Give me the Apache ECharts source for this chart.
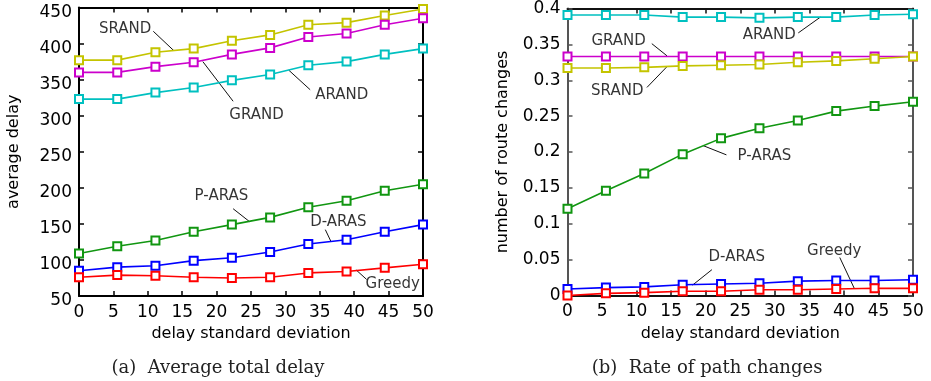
<!DOCTYPE html>
<html>
<head>
<meta charset="utf-8">
<script src="https://cdn.jsdelivr.net/npm/echarts@6/dist/echarts.min.js"></script>
<style>
html, body { margin: 0; padding: 0; background: #fff; }
#main { width: 931px; height: 381px; }
</style>
</head>
<body>
<div id="main"></div>
<script>
// delay standard deviation (10 runs, 0..50)
var xs = [0, 5.56, 11.11, 16.67, 22.22, 27.78, 33.33, 38.89, 44.44, 50];

// (a) average total delay
var delaySRAND  = [377, 377, 388, 393, 404, 412, 426, 429, 439, 448];
var delayGRAND  = [360, 360, 368, 374, 385, 394, 409, 414, 426, 435];
var delayARAND  = [323, 323, 332, 339, 349, 357, 370, 375, 385, 393];
var delayPARAS  = [109, 119, 127, 139, 149, 159, 173, 182, 196, 205];
var delayDARAS  = [85, 90, 92, 99, 103, 111, 122, 128, 139, 149];
var delayGreedy = [76, 79, 78, 76, 75, 76, 82, 84, 89, 94];

// (b) rate of path changes
var rateARAND  = [0.391, 0.391, 0.391, 0.388, 0.388, 0.387, 0.388, 0.388, 0.391, 0.392];
var rateGRAND  = [0.333, 0.333, 0.333, 0.333, 0.333, 0.333, 0.333, 0.333, 0.333, 0.333];
var rateSRAND  = [0.317, 0.317, 0.318, 0.320, 0.321, 0.322, 0.325, 0.327, 0.330, 0.333];
var ratePARAS  = [0.121, 0.146, 0.170, 0.197, 0.219, 0.233, 0.244, 0.257, 0.264, 0.270];
var rateDARAS  = [0.009, 0.011, 0.012, 0.015, 0.016, 0.017, 0.020, 0.021, 0.021, 0.022];
var rateGreedy = [0.000, 0.003, 0.004, 0.006, 0.006, 0.008, 0.008, 0.009, 0.010, 0.010];

// labels: [text, textX, textY, lineX1, lineY1, lineX2, lineY2] in data units
var notesA = [
  ['SRAND', 6.7, 420, 10.8, 417, 13.8, 390],
  ['GRAND', 25.8, 301, 18.0, 375, 22.4, 320],
  ['ARAND', 38.2, 328, 30.5, 363, 33.6, 336],
  ['P-ARAS', 20.7, 189, 22.4, 171, 24.8, 153],
  ['D-ARAS', 37.7, 153, 35.8, 142, 36.6, 126],
  ['Greedy', 45.6, 67, 40.3, 86, 41.8, 73]
];
var notesB = [
  ['ARAND', 29.2, 0.363, 33.4, 0.366, 36.6, 0.388],
  ['GRAND', 7.4, 0.355, 12.2, 0.351, 14.4, 0.334],
  ['SRAND', 7.2, 0.285, 11.5, 0.290, 14.4, 0.319],
  ['P-ARAS', 28.5, 0.194, 23.0, 0.196, 19.6, 0.209],
  ['D-ARAS', 24.5, 0.053, 20.9, 0.036, 18.1, 0.0145],
  ['Greedy', 38.6, 0.062, 39.4, 0.053, 41.5, 0.010]
];

var colors = {
  SRAND: '#c4c400', GRAND: '#cc00cc', ARAND: '#00c0c0',
  PARAS: '#119611', DARAS: '#0000ff', Greedy: '#ff0000'
};

var sans = 'DejaVu Sans';

function pairs(vals) {
  return vals.map(function (v, i) { return [xs[i], v]; });
}

function lineSeries(vals, color, xi, yi) {
  return {
    type: 'line', xAxisIndex: xi, yAxisIndex: yi,
    data: pairs(vals),
    symbol: 'emptyRect', symbolSize: 8,
    lineStyle: { color: color, width: 1.6 },
    itemStyle: { color: color, borderWidth: 1.6 },
    silent: true, animation: false
  };
}

function noteSeries(notes, xi, yi) {
  return [{
    type: 'scatter', xAxisIndex: xi, yAxisIndex: yi,
    data: notes.map(function (n) { return [n[1], n[2], n[0]]; }),
    symbolSize: 0, silent: true, animation: false,
    label: {
      show: true, position: 'inside', color: '#000',
      textBorderWidth: 0,
      fontFamily: sans, fontSize: 15,
      formatter: function (p) { return p.data[2]; }
    }
  }, {
    type: 'lines', coordinateSystem: 'cartesian2d', xAxisIndex: xi, yAxisIndex: yi,
    data: notes.map(function (n) { return { coords: [[n[3], n[4]], [n[5], n[6]]] }; }),
    lineStyle: { color: '#111', width: 1, opacity: 1 },
    silent: true, animation: false
  }];
}

function xAx(grid, pos, show, name, hColor) {
  return {
    type: 'value', gridIndex: grid, position: pos, min: 0, max: 50, interval: 5,
    name: name, nameLocation: 'middle', nameGap: 28,
    nameTextStyle: { fontFamily: sans, fontSize: 16, color: '#000' },
    axisLine: { show: true, onZero: false, lineStyle: { color: hColor, width: 2 } },
    axisTick: { show: true, inside: true, length: 5, lineStyle: { color: hColor, width: 1.5 } },
    axisLabel: { show: show, margin: 8, fontFamily: sans, fontSize: 17, color: '#000' },
    splitLine: { show: false }
  };
}

function yAx(grid, pos, show, name, min, max, interval, vColor, drop) {
  var lab = { show: show, margin: 7, fontFamily: sans, fontSize: 17, color: '#000' };
  if (drop) {
    // gnuplot draws these labels a few pixels under their ticks
    lab.verticalAlign = 'top';
    lab.lineHeight = 10;
  }
  return {
    type: 'value', gridIndex: grid, position: pos, min: min, max: max, interval: interval,
    name: name, nameLocation: 'middle', nameGap: 57,
    nameTextStyle: { fontFamily: sans, fontSize: 16, color: '#000' },
    axisLine: { show: true, onZero: false, lineStyle: { color: vColor, width: 2 } },
    axisTick: { show: true, inside: true, length: 5, lineStyle: { color: vColor, width: 1.5 } },
    axisLabel: lab,
    splitLine: { show: false }
  };
}

var chart = echarts.init(document.getElementById('main'));

var series = [
  lineSeries(delaySRAND, colors.SRAND, 0, 0),
  lineSeries(delayGRAND, colors.GRAND, 0, 0),
  lineSeries(delayARAND, colors.ARAND, 0, 0),
  lineSeries(delayPARAS, colors.PARAS, 0, 0),
  lineSeries(delayDARAS, colors.DARAS, 0, 0),
  lineSeries(delayGreedy, colors.Greedy, 0, 0),
  lineSeries(rateARAND, colors.ARAND, 2, 2),
  lineSeries(rateGRAND, colors.GRAND, 2, 2),
  lineSeries(rateSRAND, colors.SRAND, 2, 2),
  lineSeries(ratePARAS, colors.PARAS, 2, 2),
  lineSeries(rateDARAS, colors.DARAS, 2, 2),
  lineSeries(rateGreedy, colors.Greedy, 2, 2)
].concat(noteSeries(notesA, 0, 0), noteSeries(notesB, 2, 2));

chart.setOption({
  backgroundColor: '#fff',
  animation: false,
  grid: [
    { left: 79, right: 508, top: 7.5, bottom: 85 },
    { left: 567.5, right: 18, top: 6.5, bottom: 85.5 }
  ],
  xAxis: [
    xAx(0, 'bottom', true, 'delay standard deviation', '#000'),
    xAx(0, 'top', false, '', '#000'),
    xAx(1, 'bottom', true, 'delay standard deviation', '#111'),
    xAx(1, 'top', false, '', '#111')
  ],
  yAxis: [
    yAx(0, 'left', true, 'average delay', 50, 450, 50, '#000', true),
    yAx(0, 'right', false, '', 50, 450, 50, '#000', false),
    yAx(1, 'left', true, 'number of route changes', 0, 0.4, 0.05, '#555', false),
    yAx(1, 'right', false, '', 0, 0.4, 0.05, '#555', false)
  ],
  graphic: [
    { type: 'text', x: 218, y: 368, style: { text: '(a)  Average total delay', fontFamily: 'DejaVu Serif', fontSize: 18, fill: '#222', textAlign: 'center', textVerticalAlign: 'middle' } },
    { type: 'text', x: 707, y: 368, style: { text: '(b)  Rate of path changes', fontFamily: 'DejaVu Serif', fontSize: 18, fill: '#222', textAlign: 'center', textVerticalAlign: 'middle' } }
  ],
  series: series
});
</script>
</body>
</html>
